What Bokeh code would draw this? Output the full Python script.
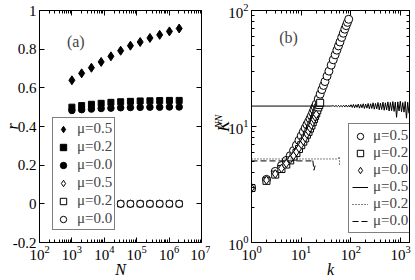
from math import pi
from bokeh.plotting import figure
from bokeh.models import (FixedTicker, LogAxis, LinearAxis, LogTickFormatter,
                          PrintfTickFormatter, Legend, LegendItem, Label, Range1d)
from bokeh.layouts import row
from bokeh.embed import file_html
from bokeh.resources import INLINE

FONT = "'Liberation Serif'"

# ---------------- panel (a) data ----------------
N = [1000, 2000, 4000, 8000, 16000, 32000, 64000, 128000, 256000, 512000, 1024000, 2048000]
r_filled_mu05 = [0.639, 0.675, 0.704, 0.734, 0.763, 0.792, 0.818, 0.837, 0.858, 0.874, 0.892, 0.907]
r_filled_mu02 = [0.500, 0.508, 0.515, 0.520, 0.525, 0.528, 0.530, 0.532, 0.533, 0.534, 0.535, 0.535]
r_filled_mu00 = [0.483, 0.487, 0.490, 0.493, 0.495, 0.497, 0.498, 0.499, 0.500, 0.500, 0.501, 0.501]
r_open_mu05 = [0, 0, 0, 0, 0, 0, 0, 0, 0, 0, 0, 0]
r_open_mu02 = [0, 0, 0, 0, 0, 0, 0, 0, 0, 0, 0, 0]
r_open_mu00 = [0, 0, 0, 0, 0, 0, 0, 0, 0, 0, 0, 0]

N_ticks = [1e2, 1e3, 1e4, 1e5, 1e6, 1e7]
r_ticks = [-0.2, 0, 0.2, 0.4, 0.6, 0.8, 1]

# ---------------- panel (b) data ----------------
k_circ_mu05 = [1, 2, 3, 4, 5, 6, 7, 8, 9, 10, 11, 12, 13, 14, 15, 16, 17, 18, 19, 20,
               22, 24, 26, 28, 30, 33, 36, 40, 44, 48, 52, 56, 60, 65, 70, 75, 80, 85, 90]
K_circ_mu05 = [2.95, 3.5, 4.1, 4.6, 5.1, 5.6, 6.2, 6.9, 7.6, 8.3, 9.0, 9.7, 10.4, 11.0, 11.7,
               12.4, 13.2, 14.0, 14.8, 15.6, 17.3, 19.0, 20.8, 22.6, 24.4, 27.2, 30.0, 33.8,
               37.6, 41.5, 45.5, 49.5, 53.5, 58.6, 63.7, 69.0, 74.0, 79.0, 84.0]
k_sq_mu02 = [1, 2, 3, 4, 5, 6, 7, 8, 9, 10, 11, 12, 13, 14, 15, 16, 17, 18, 19, 20, 21, 22, 23, 24]
K_sq_mu02 = [2.95, 3.4, 3.85, 4.3, 4.7, 5.1, 5.5, 5.9, 6.4, 6.9, 7.4, 7.9, 8.5, 9.0, 9.6,
             10.2, 10.9, 11.6, 12.3, 13.0, 13.8, 14.6, 15.3, 16.0]
k_dia_mu00 = [1, 2, 3, 4, 5, 6, 7, 8, 9, 10, 11, 12, 13, 14, 15, 16, 17, 18, 19, 20]
K_dia_mu00 = [2.95, 3.45, 3.9, 4.35, 4.8, 5.2, 5.6, 6.05, 6.5, 7.0, 7.5, 8.0, 8.6, 9.1, 9.7,
              10.3, 10.9, 11.5, 12.1, 12.7]

k_line_mu05 = [1, 40, 44, 47, 50, 53, 56, 59, 63, 67, 71, 75, 80, 85, 90, 95, 100, 106, 112, 118,
               125, 132, 140, 148, 157, 166, 176, 186, 197, 209, 221, 234, 248, 262, 278, 294,
               311, 330, 349, 370, 391, 414, 439, 465, 492, 521, 552, 584, 619, 655, 694, 735,
               778, 824, 873, 924, 979, 1037, 1098, 1163, 1231, 1304, 1380, 1460]
K_line_mu05 = [15.0, 15.0, 15.1, 14.9, 15.15, 14.85, 15.2, 14.8, 15.15, 14.8, 15.25, 14.75, 15.3,
               14.7, 15.25, 14.75, 15.4, 14.6, 15.5, 14.5, 15.4, 14.6, 15.6, 14.4, 15.5, 14.5,
               15.7, 14.3, 15.6, 14.4, 15.8, 14.2, 15.7, 14.3, 16.0, 14.1, 15.8, 14.2, 16.1,
               13.9, 15.9, 14.0, 16.2, 13.8, 16.0, 13.9, 16.3, 13.6, 16.1, 13.7, 16.4, 13.5,
               16.2, 12.0, 16.3, 13.6, 16.5, 13.4, 16.1, 13.3, 16.4, 11.8, 16.2, 13.0]
k_line_mu02 = [1, 52, 56, 58, 59, 60]
K_line_mu02 = [5.25, 5.25, 5.3, 5.5, 4.7, 4.9]
k_line_mu00 = [1, 16, 17, 18, 19]
K_line_mu00 = [5.05, 5.05, 5.2, 4.2, 4.6]

k_ticks = [1, 10, 100, 1000]
Knn_ticks = [1, 10, 100]

labels_mu = ["μ=0.5", "μ=0.2", "μ=0.0"]


def minors(decades):
    return [m * d for d in decades for m in range(2, 10)]


def style_axis(ax, show_labels=True, minor=True):
    ax.axis_line_color = "black"
    ax.major_tick_line_color = "black"
    ax.minor_tick_line_color = "black" if minor else None
    ax.major_tick_in = 5
    ax.major_tick_out = 0
    ax.minor_tick_in = 3
    ax.minor_tick_out = 0
    ax.major_label_text_font = FONT
    if show_labels:
        ax.major_label_text_color = "black"
        ax.major_label_text_font_size = "15px"
        ax.major_label_standoff = 3
    else:
        ax.major_label_text_color = None
        ax.major_label_text_font_size = "1px"
        ax.major_label_standoff = 0


def set_title(ax, text, standoff, size="16px"):
    ax.axis_label = text
    ax.axis_label_standoff = standoff
    ax.axis_label_text_font = FONT
    ax.axis_label_text_font_style = "italic"
    ax.axis_label_text_font_size = size
    ax.axis_label_text_color = "black"


def base_fig(width, border_left, border_right, **kw):
    p = figure(width=width, height=280, output_backend="svg", toolbar_location=None,
               min_border_left=border_left, min_border_right=border_right,
               min_border_top=10, min_border_bottom=34, **kw)
    p.xgrid.visible = False
    p.ygrid.visible = False
    p.outline_line_color = "black"
    p.outline_line_alpha = 1
    p.background_fill_color = "white"
    return p


# ================= panel (a) =================
pa = base_fig(210, 36, 9, x_axis_type="log",
              x_range=Range1d(1e2, 1e7), y_range=Range1d(-0.2, 1.0))

pa.xaxis[0].ticker = FixedTicker(ticks=N_ticks, minor_ticks=minors(N_ticks[:-1]))
pa.xaxis[0].formatter = LogTickFormatter()
style_axis(pa.xaxis[0])
set_title(pa.xaxis[0], "N", -2)
pa.yaxis[0].ticker = FixedTicker(ticks=r_ticks, minor_ticks=[])
pa.yaxis[0].formatter = PrintfTickFormatter(format="%g")
style_axis(pa.yaxis[0], minor=False)
set_title(pa.yaxis[0], "r", -11)

top_a = LogAxis(ticker=FixedTicker(ticks=N_ticks, minor_ticks=minors(N_ticks[:-1])))
style_axis(top_a, show_labels=False)
pa.add_layout(top_a, "above")
right_a = LinearAxis(ticker=FixedTicker(ticks=r_ticks, minor_ticks=[]))
style_axis(right_a, show_labels=False, minor=False)
pa.add_layout(right_a, "right")

ra1 = pa.scatter(N, r_filled_mu05, marker="diamond", size=9,
                 fill_color="black", line_color="black")
ra2 = pa.scatter(N, r_filled_mu02, marker="square", size=6,
                 fill_color="black", line_color="black")
ra3 = pa.scatter(N, r_filled_mu00, marker="circle", size=6.5,
                 fill_color="black", line_color="black")
ra4 = pa.scatter(N, r_open_mu05, marker="diamond", size=8,
                 fill_color="white", line_color="black")
ra5 = pa.scatter(N, r_open_mu02, marker="square", size=6,
                 fill_color="white", line_color="black")
ra6 = pa.scatter(N, r_open_mu00, marker="circle", size=7,
                 fill_color="white", line_color="black")

leg_a = Legend(items=[LegendItem(label=labels_mu[0], renderers=[ra1]),
                      LegendItem(label=labels_mu[1], renderers=[ra2]),
                      LegendItem(label=labels_mu[2], renderers=[ra3]),
                      LegendItem(label=labels_mu[0], renderers=[ra4]),
                      LegendItem(label=labels_mu[1], renderers=[ra5]),
                      LegendItem(label=labels_mu[2], renderers=[ra6])],
               location=(13, 12), margin=0, padding=2, spacing=1,
               label_height=16, glyph_height=16, glyph_width=16, label_standoff=6,
               label_text_font=FONT, label_text_font_size="15px",
               border_line_color="black", border_line_width=1,
               background_fill_color="white", background_fill_alpha=1)
pa.add_layout(leg_a)

pa.add_layout(Label(x=700, y=0.84, text="(a)", text_font=FONT, text_font_size="16px",
                    text_align="left", text_baseline="middle"))

# ================= panel (b) =================
pb = base_fig(205, 40, 6, x_axis_type="log", y_axis_type="log",
              x_range=Range1d(1, 1500), y_range=Range1d(1, 100))

pb.xaxis[0].ticker = FixedTicker(ticks=k_ticks, minor_ticks=minors(k_ticks[:-1]))
pb.xaxis[0].formatter = LogTickFormatter()
style_axis(pb.xaxis[0])
set_title(pb.xaxis[0], "k", -2)
pb.yaxis[0].ticker = FixedTicker(ticks=Knn_ticks, minor_ticks=minors(Knn_ticks[:-1]))
pb.yaxis[0].formatter = LogTickFormatter()
style_axis(pb.yaxis[0])
# subscript "NN" sits on the inner axis, "K" on an outer, tick-less axis
set_title(pb.yaxis[0], "\u2003NN", 1, size="10px")
outer_b = LogAxis(ticker=FixedTicker(ticks=Knn_ticks, minor_ticks=[]))
style_axis(outer_b, show_labels=False)
outer_b.axis_line_color = None
outer_b.major_tick_line_color = None
outer_b.minor_tick_line_color = None
set_title(outer_b, "K", -21)
pb.add_layout(outer_b, "left")

top_b = LogAxis(ticker=FixedTicker(ticks=k_ticks, minor_ticks=minors(k_ticks[:-1])))
style_axis(top_b, show_labels=False)
pb.add_layout(top_b, "above")
right_b = LogAxis(ticker=FixedTicker(ticks=Knn_ticks, minor_ticks=minors(Knn_ticks[:-1])))
style_axis(right_b, show_labels=False)
pb.add_layout(right_b, "right")

rb1 = pb.scatter(k_circ_mu05, K_circ_mu05, marker="circle", size=8,
                 fill_color="white", line_color="black")
rb2 = pb.scatter(k_sq_mu02, K_sq_mu02, marker="square", size=7,
                 fill_color="white", line_color="black")
rb3 = pb.scatter(k_dia_mu00, K_dia_mu00, marker="diamond", size=8.5,
                 fill_color="white", line_color="black")
rb4 = pb.line(k_line_mu05, K_line_mu05, line_color="black", line_width=1)
rb5 = pb.line(k_line_mu02, K_line_mu02, line_color="black", line_width=1, line_dash="1 2")
rb6 = pb.line(k_line_mu00, K_line_mu00, line_color="black", line_width=1, line_dash="6 3")

leg_b = Legend(items=[LegendItem(label=labels_mu[0], renderers=[rb1]),
                      LegendItem(label=labels_mu[1], renderers=[rb2]),
                      LegendItem(label=labels_mu[2], renderers=[rb3]),
                      LegendItem(label=labels_mu[0], renderers=[rb4]),
                      LegendItem(label=labels_mu[1], renderers=[rb5]),
                      LegendItem(label=labels_mu[2], renderers=[rb6])],
               location=(97, 9), margin=0, padding=3, spacing=0,
               label_height=16, glyph_height=16, glyph_width=16, label_standoff=5,
               label_text_font=FONT, label_text_font_size="15px",
               border_line_color="black", border_line_width=1,
               background_fill_color="white", background_fill_alpha=1)
pb.add_layout(leg_b)

pb.add_layout(Label(x=3.6, y=58, text="(b)", text_font=FONT, text_font_size="16px",
                    text_align="left", text_baseline="middle"))

layout = row(pa, pb)
open("out.html", "w").write(file_html(layout, INLINE))
